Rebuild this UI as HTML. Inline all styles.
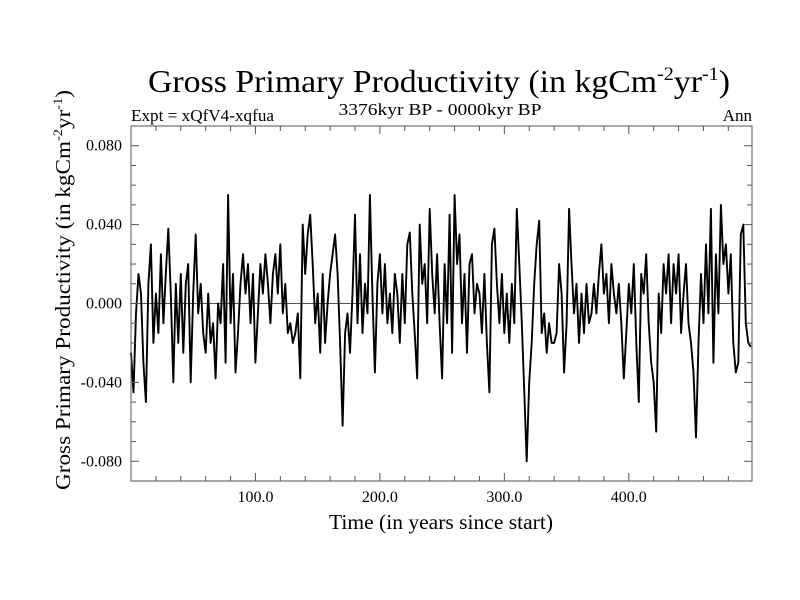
<!DOCTYPE html>
<html><head><meta charset="utf-8"><style>
body{margin:0;background:#fff}
svg{display:block;font-family:"Liberation Serif",serif}
</style></head><body>
<svg id="chart" width="800" height="600" viewBox="0 0 800 600">
<rect width="800" height="600" fill="#fff"/>
<text x="439" y="92" font-size="32" text-anchor="middle" textLength="582" lengthAdjust="spacingAndGlyphs">Gross Primary Productivity (in kgCm<tspan dy="-12" font-size="19">-2</tspan><tspan dy="12">yr</tspan><tspan dy="-12" font-size="19">-1</tspan><tspan dy="12">)</tspan></text>
<text x="131" y="121" font-size="17" textLength="143" lengthAdjust="spacingAndGlyphs">Expt = xQfV4-xqfua</text>
<text x="440" y="115" font-size="17" text-anchor="middle" textLength="203" lengthAdjust="spacingAndGlyphs">3376kyr BP - 0000kyr BP</text>
<text x="752" y="121" font-size="17" text-anchor="end">Ann</text>
<g id="axes"></g>
<text x="441" y="529" font-size="21" text-anchor="middle" textLength="224" lengthAdjust="spacingAndGlyphs">Time (in years since start)</text>
<text transform="translate(70,290) rotate(-90)" font-size="21" text-anchor="middle" textLength="400" lengthAdjust="spacingAndGlyphs">Gross Primary Productivity (in kgCm<tspan dy="-8" font-size="13">-2</tspan><tspan dy="8">yr</tspan><tspan dy="-8" font-size="13">-1</tspan><tspan dy="8">)</tspan></text>
</svg>
<script>
const years = [];
for (let i = 0; i < 250; i++) years.push(i * 2);
const gpp = [-25,-45,-5,15,5,-30,-50,10,30,-20,5,-15,25,-10,15,38,5,-40,10,-20,15,-25,10,20,-40,5,35,-5,10,-15,-25,5,-20,-10,-38,0,-10,20,-30,55,-10,15,-35,-15,10,25,5,20,-10,15,-30,-5,20,5,25,10,-10,15,25,5,30,-5,10,-15,-10,-20,-15,-5,-38,40,15,35,45,20,-10,5,-25,15,-20,0,15,25,35,15,-20,-62,-15,-5,-25,5,45,-10,25,-15,10,-5,55,5,-35,10,25,-5,20,-10,5,-15,15,5,-20,15,-10,30,36,5,-15,-38,40,10,20,-10,48,15,-5,25,-10,-38,20,-10,45,-25,55,20,35,-10,15,-25,20,25,-5,10,5,-15,15,-20,-45,30,38,10,-10,15,-15,5,-20,10,-10,48,20,-10,-45,-80,-40,-20,10,30,42,-15,-5,-25,-10,-20,-20,-15,20,5,-35,-10,48,20,-5,10,-20,5,-15,10,-10,-5,10,-5,15,30,5,15,-10,20,5,-5,10,-10,-38,-15,10,-5,20,-20,-50,15,5,25,-10,-30,-40,-65,5,-15,20,5,25,-10,20,5,25,-15,5,20,-10,-20,-35,-68,-20,15,-10,30,-5,48,-30,25,-5,50,20,30,5,25,-20,-35,-30,35,40,-10,-20,-22].map(v => v / 1000);
const yTickVals = [0.08, 0.04, 0, -0.04, -0.08];
const yTickLabels = ["0.080", "0.040", "0.000", "-0.040", "-0.080"];
const xTickVals = [100, 200, 300, 400];
const xTickLabels = ["100.0", "200.0", "300.0", "400.0"];

const L = 131, R = 752, T = 126, B = 481, X0 = 0, X1 = 499, Y0 = -0.09, Y1 = 0.09;
const sx = v => L + (v - X0) / (X1 - X0) * (R - L);
const sy = v => B - (v - Y0) / (Y1 - Y0) * (B - T);
const NS = "http://www.w3.org/2000/svg";
const g = document.getElementById("axes");
function mk(tag, attrs) { const e = document.createElementNS(NS, tag); for (const k in attrs) e.setAttribute(k, attrs[k]); g.appendChild(e); return e; }

const zl = mk("line", {x1: L, x2: R, y1: sy(0), y2: sy(0), stroke: "#555", "stroke-width": 1});



let d = "";
years.forEach((y, i) => { d += (i ? "L" : "M") + sx(y).toFixed(1) + "," + sy(gpp[i]).toFixed(1); });
const line = mk("path", {d: d, fill: "none", stroke: "#000", "stroke-width": 1.9, "stroke-linejoin": "round"});



const frame = mk("rect", {x: L, y: T, width: R - L, height: B - T, fill: "none", stroke: "#555", "stroke-width": 1});



for (let v = 20; v < X1; v += 20) {
  const major = v % 100 === 0, len = major ? 8 : 5;
  mk("line", {x1: sx(v), x2: sx(v), y1: B, y2: B - len, stroke: "#555"});
  mk("line", {x1: sx(v), x2: sx(v), y1: T, y2: T + len, stroke: "#555"});
}
for (let k = -8; k <= 8; k++) {
  const v = k / 100, major = k % 4 === 0, len = major ? 8 : 5;
  mk("line", {x1: L, x2: L + len, y1: sy(v), y2: sy(v), stroke: "#555"});
  mk("line", {x1: R, x2: R - len, y1: sy(v), y2: sy(v), stroke: "#555"});
}
xTickVals.forEach((v, i) => {
  const t = mk("text", {x: sx(v), y: 502, "font-size": 16, "text-anchor": "middle"});
  t.textContent = xTickLabels[i];
  
  
});
yTickVals.forEach((v, i) => {
  const t = mk("text", {x: 122, y: sy(v) + 5, "font-size": 16, "text-anchor": "end"});
  t.textContent = yTickLabels[i];
  
  
});
</script>
</body></html>
